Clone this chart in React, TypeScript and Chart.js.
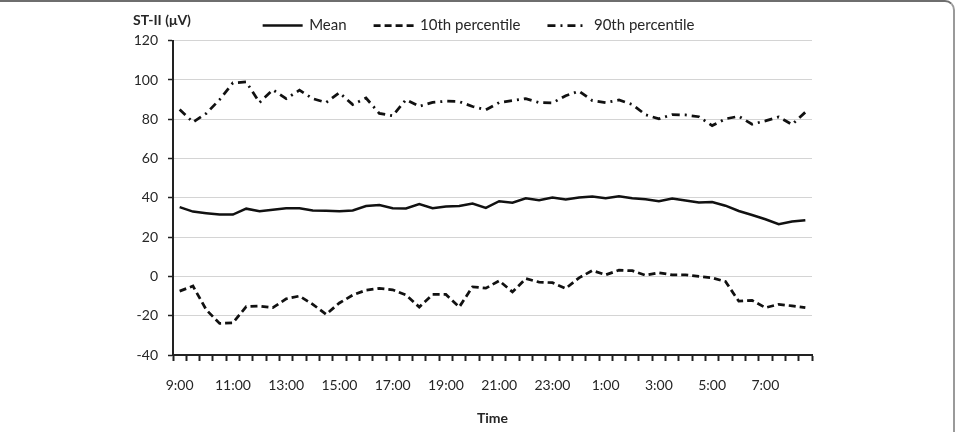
import React, { useEffect, useRef } from 'react';
import { Chart, registerables } from 'chart.js';

Chart.register(...registerables);

const FONT = 'Lato, "Open Sans", sans-serif';
const TEXT_COLOR = '#262626';

// Half-hourly time slots, 9:00 through 8:30 next morning
const timeLabels = [
  '9:00', '9:30', '10:00', '10:30', '11:00', '11:30', '12:00', '12:30',
  '13:00', '13:30', '14:00', '14:30', '15:00', '15:30', '16:00', '16:30',
  '17:00', '17:30', '18:00', '18:30', '19:00', '19:30', '20:00', '20:30',
  '21:00', '21:30', '22:00', '22:30', '23:00', '23:30', '0:00', '0:30',
  '1:00', '1:30', '2:00', '2:30', '3:00', '3:30', '4:00', '4:30',
  '5:00', '5:30', '6:00', '6:30', '7:00', '7:30', '8:00', '8:30',
];

// ST-II amplitude (µV)
const meanValues = [
  35.3, 33.0, 32.2, 31.5, 31.5, 34.5, 33.2, 34.0, 34.7, 34.7, 33.6, 33.4,
  33.2, 33.6, 35.8, 36.3, 34.7, 34.6, 36.8, 34.7, 35.6, 35.9, 37.1, 34.9,
  38.3, 37.5, 39.8, 38.8, 40.2, 39.2, 40.2, 40.7, 39.8, 40.8, 39.8, 39.3,
  38.3, 39.7, 38.6, 37.6, 37.9, 36.0, 33.3, 31.3, 29.1, 26.6, 28.0, 28.6,
];

const p10Values = [
  -7.5, -4.9, -17.0, -23.9, -23.6, -15.4, -15.1, -15.9, -11.4, -10.0, -14.2, -19.3,
  -13.5, -9.5, -7.0, -6.1, -6.8, -9.4, -15.6, -9.2, -9.2, -15.6, -5.3, -6.0,
  -2.2, -7.9, -1.1, -2.9, -3.2, -6.1, -0.7, 3.0, 0.8, 3.2, 2.9, 0.6,
  1.9, 0.8, 0.8, 0.0, -0.7, -2.6, -12.6, -12.2, -15.9, -14.2, -15.0, -15.9,
];

const p90Values = [
  85.0, 78.5, 83.0, 90.0, 98.5, 99.0, 88.5, 95.0, 90.5, 94.8, 90.5, 88.5,
  93.5, 87.5, 90.8, 83.0, 81.8, 90.0, 86.6, 88.6, 89.2, 89.0, 86.5, 84.8,
  88.5, 89.5, 90.5, 88.5, 88.3, 92.0, 94.3, 89.5, 88.5, 89.8, 87.5, 82.3,
  80.2, 82.4, 82.2, 81.3, 76.8, 80.2, 81.5, 77.5, 79.2, 81.2, 77.3, 83.6,
];

const seriesNames = ['Mean', '10th percentile', '90th percentile'];
const yAxisTitle = 'ST-II (μV)';
const xAxisTitle = 'Time';

// Line-sample legend across the top plus the unit label above the y axis
const chartTexts = {
  id: 'chartTexts',
  afterDraw(chart: any) {
    const { ctx, chartArea } = chart;
    ctx.save();

    ctx.font = `bold 14px ${FONT}`;
    ctx.fillStyle = TEXT_COLOR;
    ctx.textAlign = 'left';
    ctx.textBaseline = 'middle';
    ctx.fillText(yAxisTitle, chartArea.left - 40, 20);

    const sampleW = 40;
    const gap = 6.5;
    const spacing = 27;
    const cy = 25.5;
    ctx.font = `15px ${FONT}`;
    const items = chart.data.datasets.map((ds: any) => ({
      ds,
      w: sampleW + gap + ctx.measureText(ds.label).width,
    }));
    const total = items.reduce((s: number, it: any) => s + it.w, 0) + spacing * (items.length - 1);
    let x = chart.width / 2 - total / 2;
    for (const { ds, w } of items) {
      ctx.beginPath();
      ctx.setLineDash(ds.borderDash || []);
      ctx.lineWidth = ds.borderWidth;
      ctx.strokeStyle = ds.borderColor;
      ctx.moveTo(x, cy);
      ctx.lineTo(x + sampleW, cy);
      ctx.stroke();
      ctx.setLineDash([]);
      ctx.fillStyle = TEXT_COLOR;
      ctx.fillText(ds.label, x + sampleW + gap, cy);
      x += w + spacing;
    }
    ctx.restore();
  },
};

export default function App() {
  const canvasRef = useRef<HTMLCanvasElement | null>(null);

  useEffect(() => {
    if (!canvasRef.current) return;
    const lineBase = { pointRadius: 0, tension: 0, fill: false, borderColor: '#111', borderCapStyle: 'butt' };
    const chart = new Chart(canvasRef.current, {
      type: 'line',
      data: {
        labels: timeLabels,
        datasets: [
          { ...lineBase, label: seriesNames[0], data: meanValues, borderWidth: 2.5, borderDash: [] },
          { ...lineBase, label: seriesNames[1], data: p10Values, borderWidth: 2.75, borderDash: [7, 4] },
          { ...lineBase, label: seriesNames[2], data: p90Values, borderWidth: 2.75, borderDash: [8, 5, 2, 5] },
        ],
      } as any,
      options: {
        responsive: false,
        animation: false,
        devicePixelRatio: 1,
        layout: { padding: { top: 40.7, right: 145, bottom: 0, left: 0 } },
        plugins: {
          legend: { display: false },
          tooltip: { enabled: false },
          title: { display: false },
        },
        scales: {
          x: {
            type: 'category',
            offset: true,
            grid: {
              offset: true,
              drawOnChartArea: false,
              drawTicks: true,
              tickLength: 6,
              tickWidth: 2,
              tickColor: '#222',
            },
            border: { display: true, color: '#222', width: 2 },
            ticks: {
              autoSkip: false,
              maxRotation: 0,
              minRotation: 0,
              padding: 16,
              color: TEXT_COLOR,
              font: { family: FONT, size: 14 },
              callback: (_v: any, i: number) => (i % 4 === 0 ? timeLabels[i] : ''),
            },
            title: {
              display: true,
              text: xAxisTitle,
              color: TEXT_COLOR,
              font: { family: FONT, size: 14, weight: 'bold' },
              padding: { top: 0, bottom: 5.6 },
            },
            afterFit: (scale: any) => {
              scale.height = 77;
            },
          },
          y: {
            min: -40,
            max: 120,
            ticks: {
              stepSize: 20,
              padding: 10,
              color: TEXT_COLOR,
              font: { family: FONT, size: 14 },
            },
            grid: {
              color: '#d4d4d4',
              lineWidth: 1,
              drawTicks: true,
              tickLength: 5,
              tickColor: '#222',
              tickWidth: 1.5,
            },
            border: { display: true, color: '#222', width: 2 },
            afterFit: (scale: any) => {
              scale.width = 173;
            },
          },
        },
      } as any,
      plugins: [chartTexts],
    });
    return () => chart.destroy();
  }, []);

  return (
    <div style={{ position: 'absolute', left: 0, top: 0, width: 957, height: 432, background: '#fff', overflow: 'hidden' }}>
      <canvas ref={canvasRef} width={957} height={432} style={{ display: 'block', width: 957, height: 432 }} />
      <div
        style={{
          position: 'absolute',
          left: 0,
          top: 0,
          width: 955,
          height: 432,
          boxSizing: 'border-box',
          borderTop: '2px solid #6e6e6e',
          borderRight: '2px solid #9a9a9a',
          borderTopRightRadius: 10,
          pointerEvents: 'none',
        }}
      />
    </div>
  );
}
